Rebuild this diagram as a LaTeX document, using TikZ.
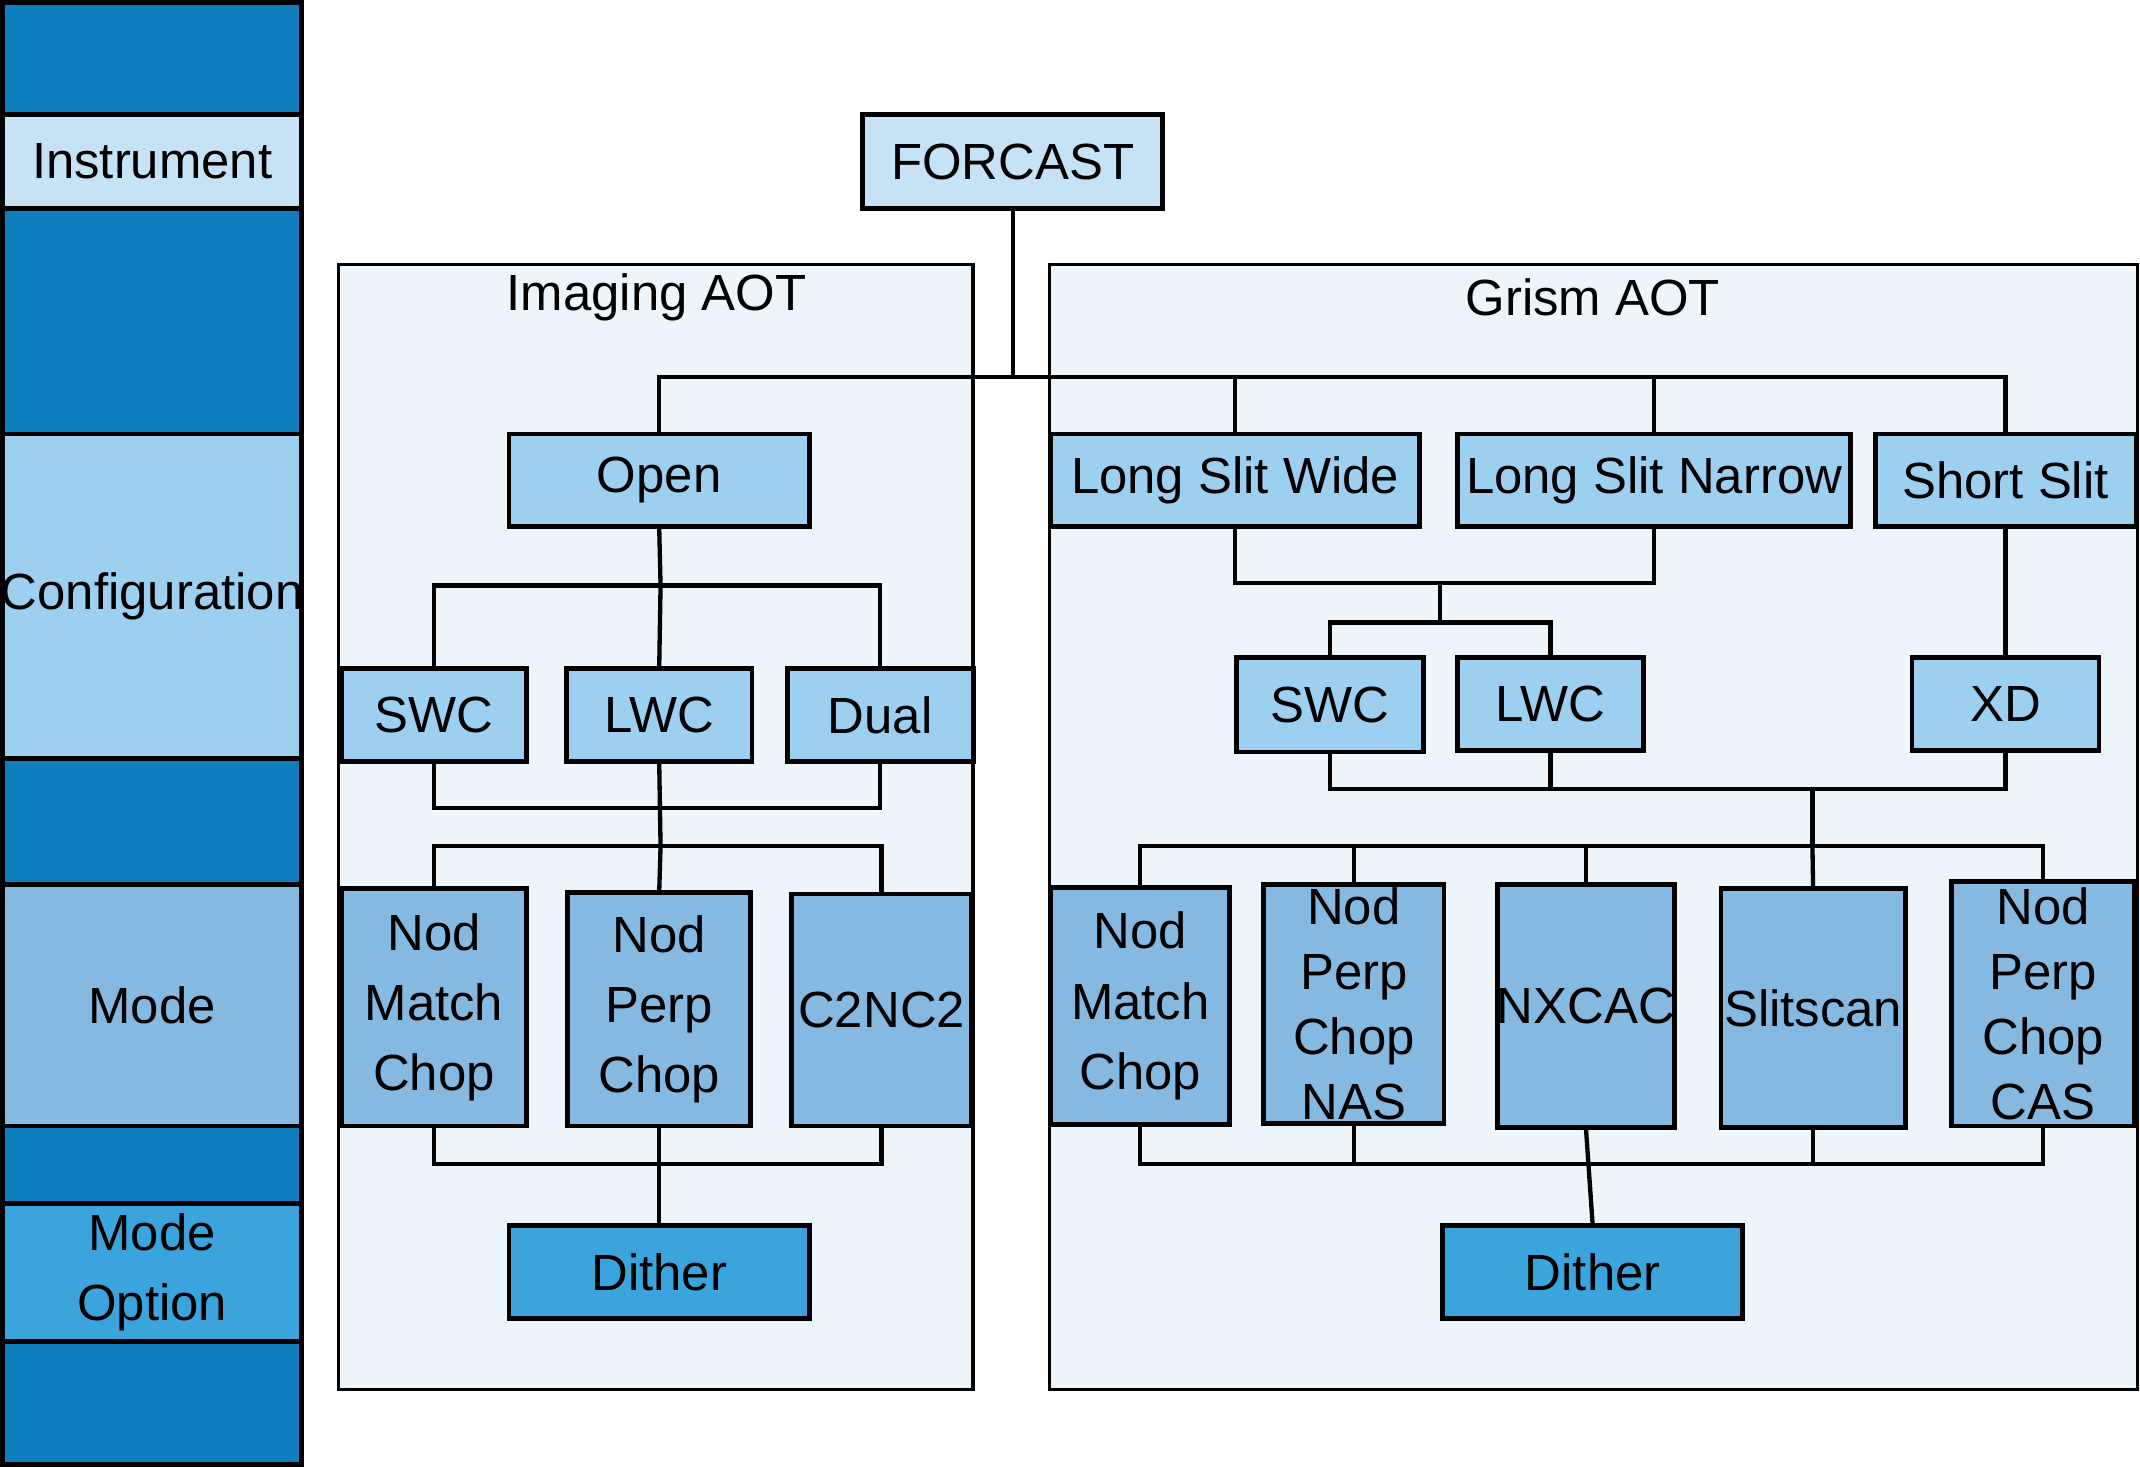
\documentclass[tikz,border=0pt]{standalone}
\usepackage{fontspec}
\setmainfont{Liberation Sans}
\begin{document}
\begin{tikzpicture}[x=0.01cm,y=-0.01cm,line width=1pt,
  lbl/.style={font=\fontsize{10.6}{12.6}\selectfont,align=center,inner sep=0pt},
  ln/.style={line width=0.9pt}]
\definecolor{dk}{HTML}{0E7DBD}
\definecolor{c1}{HTML}{C5E3F5}
\definecolor{c2}{HTML}{9DD0F0}
\definecolor{c3}{HTML}{85B9E2}
\definecolor{c4}{HTML}{3BA4DC}
\definecolor{pn}{HTML}{EDF5FB}
\useasboundingbox (0,0) rectangle (1568,1075);
\newcommand{\bx}[7]{\draw[fill=#6] (#2,#3) rectangle (#4,#5) node[lbl,midway] (#1) {#7};
  \coordinate (#1-n) at ({(#2+#4)/2},#3); \coordinate (#1-s) at ({(#2+#4)/2},#5);}
% left legend
\bx{b1}{2}{2}{221}{84}{dk}{}
\bx{li}{2}{84}{221}{153}{c1}{Instrument}
\bx{b2}{2}{153}{221}{318}{dk}{}
\bx{lc}{2}{318}{221}{556}{c2}{Configuration}
\bx{b3}{2}{556}{221}{648}{dk}{}
\bx{lm}{2}{648}{221}{825}{c3}{Mode}
\bx{b4}{2}{825}{221}{882}{dk}{}
\bx{lo}{2}{882}{221}{983}{c4}{Mode\\[2pt]Option}
\bx{b5}{2}{983}{221}{1073}{dk}{}
% panels
\draw[fill=pn,line width=0.7pt] (248,194) rectangle (713,1018);
\node[lbl] (ia) at (481,218) {Imaging AOT};
\draw[fill=pn,line width=0.7pt] (769,194) rectangle (1566,1018);
\node[lbl] (ga) at (1167,218) {Grism AOT};
% nodes
\bx{fc}{632}{84}{852}{153}{c1}{FORCAST}
\bx{op}{373}{318}{593}{386}{c2}{Open}
\bx{lsw}{770}{318}{1040}{386}{c2}{Long Slit Wide}
\bx{lsn}{1068}{318}{1356}{386}{c2}{Long Slit Narrow}
\bx{ss}{1374}{318}{1565}{386}{c2}{Short Slit}
\bx{iswc}{250}{490}{386}{558}{c2}{SWC}
\bx{ilwc}{415}{490}{551}{558}{c2}{LWC}
\bx{idual}{577}{490}{713}{558}{c2}{Dual}
\bx{inmc}{250}{651}{386}{825}{c3}{Nod\\[2pt]Match\\[2pt]Chop}
\bx{inpc}{416}{654}{550}{825}{c3}{Nod\\[2pt]Perp\\[2pt]Chop}
\bx{ic2}{580}{655}{712}{825}{c3}{C2NC2}
\bx{idi}{373}{898}{593}{966}{c4}{Dither}
\bx{gswc}{906}{482}{1043}{551}{c2}{SWC}
\bx{glwc}{1068}{482}{1204}{550}{c2}{LWC}
\bx{gxd}{1401}{482}{1538}{550}{c2}{XD}
\bx{gnmc}{770}{650}{901}{824}{c3}{Nod\\[2pt]Match\\[2pt]Chop}
\bx{gnas}{926}{648}{1058}{823}{c3}{Nod\\[1pt]Perp\\[1pt]Chop\\[1pt]NAS}
\bx{gnx}{1097}{648}{1227}{826}{c3}{NXCAC}
\bx{gsl}{1261}{651}{1396}{826}{c3}{Slitscan}
\bx{gcas}{1430}{646}{1564}{825}{c3}{Nod\\[1pt]Perp\\[1pt]Chop\\[1pt]CAS}
\bx{gdi}{1057}{898}{1277}{966}{c4}{Dither}
% junctions
\coordinate (j1) at (742,276);
\coordinate (j2) at (484,429);
\coordinate (j3) at (484,592);
\coordinate (j4) at (484,620);
\coordinate (j5) at (484,853);
\coordinate (g1) at (1055,427);
\coordinate (g2) at (1055,456);
\coordinate (g3) at (1328,578);
\coordinate (g4) at (1328,620);
\coordinate (g5) at (1167,853);
% connectors
\begin{scope}[ln]
\draw (fc-s) -- (j1);
\draw (op-n) |- (j1) -| (ss-n);
\draw (lsw-n) -- (lsw-n |- j1);
\draw (lsn-n) -- (lsn-n |- j1);
\draw (op-s) -- (j2);
\draw (iswc-n) |- (j2) -| (idual-n);
\draw (ilwc-n) -- (j2);
\draw (iswc-s) |- (j3) -| (idual-s);
\draw (ilwc-s) -- (j4);
\draw (inmc-n) |- (j4) -| (ic2-n);
\draw (inpc-n) -- (j4);
\draw (inmc-s) |- (j5) -| (ic2-s);
\draw (inpc-s) -- (idi-n);
\draw (lsw-s) |- (g1) -| (lsn-s);
\draw (g1) -- (g2);
\draw (gswc-n) |- (g2) -| (glwc-n);
\draw (ss-s) -- (gxd-n);
\draw (gswc-s) |- (g3) -| (gxd-s);
\draw (glwc-s) -- (glwc-s |- g3);
\draw (g3) -- (g4);
\draw (gnmc-n) |- (g4) -| (gcas-n);
\draw (gnas-n) -- (gnas-n |- g4);
\draw (gnx-n) -- (gnx-n |- g4);
\draw (gsl-n) -- (g4);
\draw (gnmc-s) |- (g5) -| (gcas-s);
\draw (gnas-s) -- (gnas-s |- g5);
\draw (gsl-s) -- (gsl-s |- g5);
\draw (gnx-s) -- (gdi-n);
\end{scope}
\end{tikzpicture}
\end{document}
